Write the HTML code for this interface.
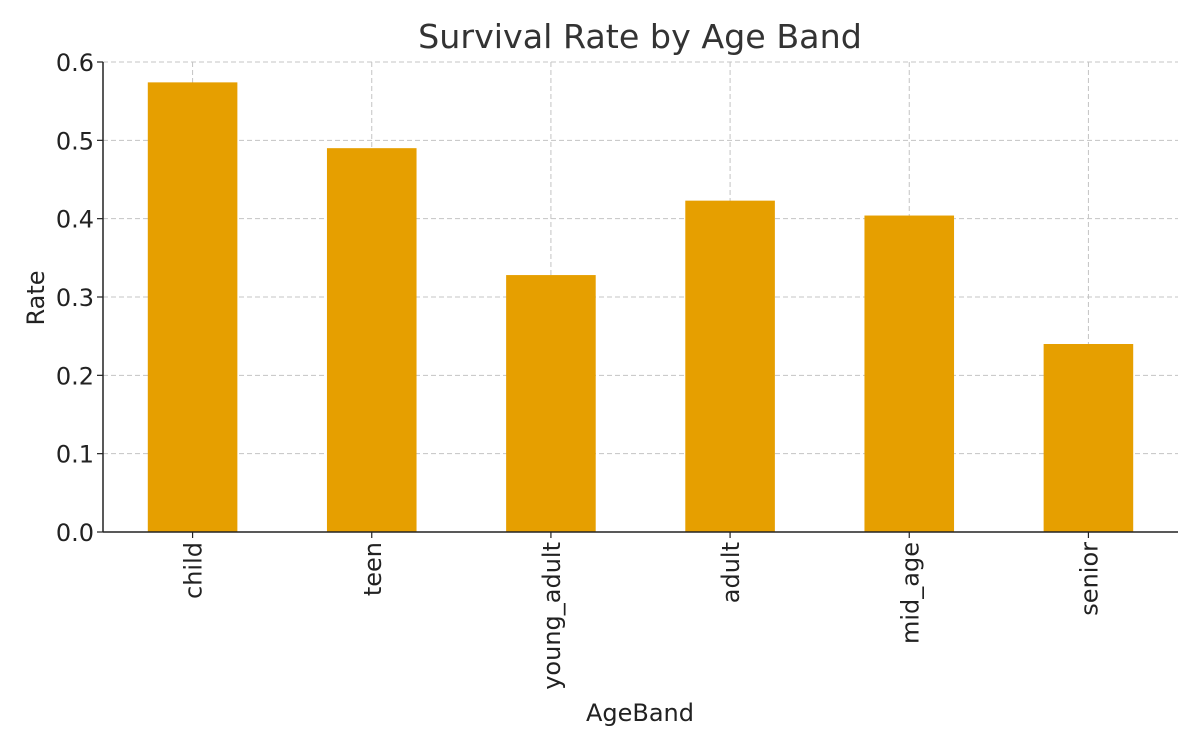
<!DOCTYPE html>
<html><head><meta charset="utf-8"><style>
html,body{margin:0;padding:0;background:#fff;}
svg{display:block;font-family:"DejaVu Sans","Liberation Sans",sans-serif;}
</style></head><body>
<svg id="chart" width="1200" height="750" viewBox="0 0 1200 750" xmlns="http://www.w3.org/2000/svg">
<text x="640" y="48" text-anchor="middle" font-size="33.3" fill="#333">Survival Rate by Age Band</text>
<text transform="translate(44,298) rotate(-90)" text-anchor="middle" font-size="24" fill="#222">Rate</text>
<text x="640" y="721" text-anchor="middle" font-size="24" fill="#222">AgeBand</text>
<g id="grid"></g>
<g id="bars"></g>
<g id="axes"></g>
</svg>
<script>
const categories = ["child","teen","young_adult","adult","mid_age","senior"];
const rates = [0.574, 0.490, 0.328, 0.423, 0.404, 0.240];
const yTicks = [0.0, 0.1, 0.2, 0.3, 0.4, 0.5, 0.6];
const yTickLabels = ["0.0","0.1","0.2","0.3","0.4","0.5","0.6"];

const NS = "http://www.w3.org/2000/svg";
const L = 103, R = 1178, T = 62, B = 532;
const yMax = 0.6;
const y = v => B - (v / yMax) * (B - T);
const step = (R - L) / categories.length;
const x = i => L + step * (i + 0.5);
const bw = step * 0.5;

function mk(tag, attrs, parent) {
  const e = document.createElementNS(NS, tag);
  for (const k in attrs) e.setAttribute(k, attrs[k]);
  parent.appendChild(e);
  return e;
}
const grid = document.getElementById("grid");
const bars = document.getElementById("bars");
const axes = document.getElementById("axes");

yTicks.forEach((t, i) => {
  if (t > 0) {
    const g = mk("line", {x1: L, x2: R, y1: y(t), y2: y(t), stroke: "#c4c4c4", "stroke-width": 1, "stroke-dasharray": "5,3"}, grid);
    
    
  }
  const tk = mk("line", {x1: L - 6, x2: L, y1: y(t), y2: y(t), stroke: "#222", "stroke-width": 1.2}, axes);
  
  
  const lb = mk("text", {x: L - 9, y: y(t) + 9, "text-anchor": "end", "font-size": 24, fill: "#222"}, axes);
  lb.textContent = yTickLabels[i];
  
  
});
categories.forEach((c, i) => {
  const b = mk("rect", {x: x(i) - bw / 2, y: y(rates[i]), width: bw, height: B - y(rates[i]), fill: "#e69f00"}, bars);
  
  
  const g = mk("line", {x1: x(i), x2: x(i), y1: T, y2: B, stroke: "#c4c4c4", "stroke-width": 1, "stroke-dasharray": "5,3"}, grid);
  
  
  const tk = mk("line", {x1: x(i), x2: x(i), y1: B, y2: B + 6, stroke: "#222", "stroke-width": 1.2}, axes);
  
  
  const lb = mk("text", {transform: "translate(" + (x(i) + 9) + "," + (B + 10) + ") rotate(-90)", "text-anchor": "end", "font-size": 24, fill: "#222"}, axes);
  lb.textContent = c;
  
  
});
const ax1 = mk("line", {x1: L, x2: L, y1: T, y2: B, stroke: "#222", "stroke-width": 1.5}, axes);


const ax2 = mk("line", {x1: L, x2: R, y1: B, y2: B, stroke: "#222", "stroke-width": 1.5}, axes);


</script>
</body></html>
